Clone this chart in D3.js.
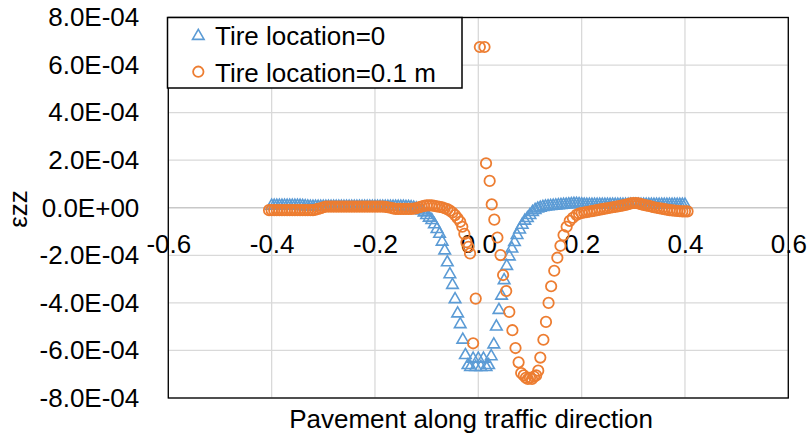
<!DOCTYPE html>
<html>
<head>
<meta charset="utf-8">
<script src="https://cdn.jsdelivr.net/npm/d3@7"></script>
<style>
  html, body { margin: 0; padding: 0; background: #fff; }
  svg { display: block; }
</style>
</head>
<body>
<script>
// ---------- DATA (strain values are in units of 1e-4) ----------
const xTicks = [-0.6, -0.4, -0.2, 0, 0.2, 0.4, 0.6];
const xTickLabels = ["-0.6", "-0.4", "-0.2", "0.0", "0.2", "0.4", "0.6"];
const yTicks = [8e-4, 6e-4, 4e-4, 2e-4, 0, -2e-4, -4e-4, -6e-4, -8e-4];
const yTickLabels = ["8.0E-04", "6.0E-04", "4.0E-04", "2.0E-04", "0.0E+00", "-2.0E-04", "-4.0E-04", "-6.0E-04", "-8.0E-04"];

const seriesNames = ["Tire location=0", "Tire location=0.1 m"];

// Series 1: tire location = 0
const blueX = [
  -0.400,-0.395,-0.390,-0.385,-0.380,-0.375,-0.370,-0.365,-0.360,-0.355,
  -0.350,-0.345,-0.340,-0.335,-0.330,-0.325,-0.320,-0.315,-0.310,-0.305,
  -0.300,-0.295,-0.290,-0.285,-0.280,-0.275,-0.270,-0.265,-0.260,-0.255,
  -0.250,-0.245,-0.240,-0.235,-0.230,-0.225,-0.220,-0.215,-0.210,-0.205,
  -0.200,-0.195,-0.190,-0.185,-0.180,-0.175,-0.170,-0.165,-0.160,-0.155,
  -0.150,-0.145,-0.140,-0.135,-0.130,
  -0.125,-0.120,-0.115,-0.110,-0.105,-0.100,-0.095,-0.090,-0.085,-0.080,
  -0.075,-0.070,-0.065,-0.060,-0.055,-0.050,-0.045,-0.040,-0.035,-0.030,
  -0.025,-0.020,-0.015,-0.010,-0.005,0.000,0.005,0.010,0.015,0.020,
  0.025,0.030,0.035,0.040,0.045,0.050,0.055,0.060,0.065,0.070,
  0.075,0.080,0.085,0.090,0.095,0.100,0.105,0.110,0.115,0.120,0.125,
  0.130,0.135,0.140,0.145,0.150,0.155,0.160,0.165,0.170,0.175,
  0.180,0.185,0.190,0.195,0.200,0.205,0.210,0.215,0.220,0.225,
  0.230,0.235,0.240,0.245,0.250,0.255,0.260,0.265,0.270,0.275,
  0.280,0.285,0.290,0.295,0.300,0.305,0.310,0.315,0.320,0.325,
  0.330,0.335,0.340,0.345,0.350,0.355,0.360,0.365,0.370,0.375,
  0.380,0.385,0.390,0.395,0.400
];
const blueY = [
  0.08,0.08,0.08,0.08,0.08,0.08,0.08,0.08,0.08,0.08,
  0.08,0.08,0.07,0.06,0.05,0.04,0.04,0.04,0.04,0.04,
  0.04,0.04,0.04,0.04,0.04,0.04,0.04,0.04,0.04,0.04,
  0.04,0.04,0.04,0.04,0.04,0.04,0.04,0.04,0.04,0.04,
  0.04,0.04,0.04,0.04,0.04,0.04,0.04,0.04,0.04,0.04,
  0.04,0.04,0.03,0.03,0.02,
  0.00,-0.03,-0.07,-0.12,-0.20,-0.31,-0.42,-0.52,-0.70,-0.90,
  -1.10,-1.43,-1.80,-2.30,-2.80,-3.25,-3.85,-4.45,-4.90,-5.55,
  -6.20,-6.62,-6.70,-6.35,-6.70,-6.35,-6.70,-6.35,-6.70,-6.62,
  -6.25,-5.75,-5.00,-4.30,-3.70,-3.05,-2.45,-2.05,-1.72,-1.45,
  -1.15,-0.92,-0.72,-0.55,-0.44,-0.31,-0.18,-0.10,-0.04,0.00,0.03,
  0.05,0.06,0.07,0.08,0.09,0.10,0.11,0.12,0.13,0.14,
  0.15,0.16,0.16,0.15,0.14,0.13,0.12,0.12,0.12,0.12,
  0.12,0.12,0.12,0.12,0.12,0.12,0.12,0.12,0.12,0.12,
  0.12,0.12,0.12,0.12,0.12,0.12,0.12,0.12,0.12,0.12,
  0.12,0.12,0.12,0.12,0.12,0.12,0.12,0.12,0.12,0.12,
  0.12,0.12,0.12,0.12,0.12
];

// Series 2: tire location = 0.1 m
const orangeX = [
  -0.405,-0.400,-0.395,-0.390,-0.385,-0.380,-0.375,-0.370,-0.365,-0.360,
  -0.355,-0.350,-0.345,-0.340,-0.335,-0.330,-0.325,-0.320,-0.315,-0.310,
  -0.305,-0.300,-0.295,-0.290,-0.285,-0.280,-0.275,-0.270,-0.265,-0.260,
  -0.255,-0.250,-0.245,-0.240,-0.235,-0.230,-0.225,-0.220,-0.215,-0.210,
  -0.205,-0.200,-0.195,-0.190,-0.185,-0.180,-0.175,-0.170,-0.165,-0.160,
  -0.155,-0.150,-0.145,-0.140,-0.135,-0.130,-0.125,-0.120,-0.115,-0.110,
  -0.105,-0.100,-0.095,-0.090,-0.085,-0.080,-0.075,-0.070,-0.065,
  -0.060,-0.055,-0.050,-0.045,-0.040,-0.035,-0.031,-0.027,-0.023,-0.019,
  -0.016,-0.010,-0.005,0.003,0.012,0.015,0.022,0.026,0.031,0.037,
  0.043,0.048,0.054,0.060,0.066,0.072,0.078,0.083,0.088,0.092,
  0.096,0.100,0.104,0.108,0.112,0.116,0.120,0.126,0.131,0.136,
  0.141,0.147,0.153,0.159,0.165,0.171,0.177,0.183,0.190,0.195,
  0.200,0.205,0.210,0.215,0.220,0.225,0.230,0.235,0.240,0.245,
  0.250,0.255,0.260,0.265,0.270,0.275,0.280,0.285,0.290,0.295,
  0.300,0.305,0.310,0.315,0.320,0.325,0.330,0.335,0.340,0.345,
  0.350,0.355,0.360,0.365,0.370,0.375,0.380,0.385,0.390,0.395,
  0.400,0.405
];
const orangeY = [
  -0.10,-0.10,-0.10,-0.10,-0.10,-0.10,-0.10,-0.10,-0.10,-0.10,
  -0.10,-0.10,-0.10,-0.10,-0.10,-0.10,-0.10,-0.10,-0.08,-0.05,
  -0.02,0.02,0.05,0.05,0.05,0.05,0.05,0.05,0.05,0.05,
  0.05,0.05,0.05,0.05,0.05,0.05,0.05,0.05,0.05,0.05,
  0.05,0.05,0.05,0.05,0.05,0.04,0.02,0.00,-0.03,-0.05,
  -0.05,-0.05,-0.05,-0.05,-0.05,-0.05,-0.04,-0.02,0.02,0.05,
  0.08,0.10,0.10,0.10,0.08,0.06,0.04,0.02,-0.02,
  -0.06,-0.12,-0.20,-0.31,-0.44,-0.59,-0.80,-1.10,-1.45,-1.64,
  -1.92,-5.70,-3.82,6.76,6.76,1.87,1.13,0.14,-0.50,-1.25,
  -1.99,-2.83,-3.50,-4.38,-5.15,-5.90,-6.50,-6.95,-7.05,-7.15,
  -7.20,-7.15,-7.20,-7.10,-7.05,-6.85,-6.30,-5.55,-4.80,-4.00,
  -3.30,-2.65,-2.10,-1.60,-1.15,-0.80,-0.55,-0.42,-0.30,-0.25,
  -0.22,-0.20,-0.18,-0.16,-0.14,-0.12,-0.10,-0.08,-0.06,-0.04,
  -0.02,0.00,0.02,0.04,0.06,0.08,0.10,0.12,0.15,0.18,
  0.20,0.20,0.18,0.15,0.12,0.10,0.08,0.05,0.02,0.00,
  -0.02,-0.04,-0.06,-0.08,-0.10,-0.11,-0.12,-0.13,-0.14,-0.15,
  -0.15,-0.15
];
const UNIT = 1e-4;

// ---------- LAYOUT ----------
const W = 811, H = 441;
const plot = { left: 168.3, right: 788.3, top: 17.5, bottom: 398 };
const FONT = "'Liberation Sans', Arial, sans-serif";
const FS = 26;
const BLUE = "#5B9BD5", ORANGE = "#ED7D31";

const svg = d3.select("body").append("svg").attr("width", W).attr("height", H);

const x = d3.scaleLinear().domain([-0.6, 0.6]).range([plot.left, plot.right]);
const y = d3.scaleLinear().domain([-8e-4, 8e-4]).range([plot.bottom, plot.top]);

// gridlines
svg.append("g").selectAll("line").data(yTicks).join("line")
  .attr("x1", plot.left).attr("x2", plot.right)
  .attr("y1", d => y(d)).attr("y2", d => y(d))
  .attr("stroke", d => d === 0 ? "#c8c8c8" : "#d9d9d9")
  .attr("stroke-width", d => d === 0 ? 1.6 : 1.3);
svg.append("g").selectAll("line").data(xTicks).join("line")
  .attr("x1", d => x(d)).attr("x2", d => x(d))
  .attr("y1", plot.top).attr("y2", plot.bottom)
  .attr("stroke", "#d9d9d9").attr("stroke-width", 1.3);

// plot border
svg.append("rect")
  .attr("x", plot.left).attr("y", plot.top)
  .attr("width", plot.right - plot.left).attr("height", plot.bottom - plot.top)
  .attr("fill", "none").attr("stroke", "#000").attr("stroke-width", 1.3);

// axes (labels only)
const gx = svg.append("g")
  .attr("transform", `translate(0,${y(0)})`)
  .call(d3.axisBottom(x).tickValues(xTicks).tickSize(0).tickPadding(27)
    .tickFormat((d, i) => xTickLabels[i]));
gx.select(".domain").remove();
gx.attr("font-size", FS).attr("font-family", FONT);
gx.selectAll("text").attr("fill", "#000");

const gy = svg.append("g")
  .attr("transform", `translate(${plot.left},0)`)
  .call(d3.axisLeft(y).tickValues(yTicks).tickSize(0).tickPadding(29)
    .tickFormat((d, i) => yTickLabels[i]));
gy.select(".domain").remove();
gy.attr("font-size", FS).attr("font-family", FONT);
gy.selectAll("text").attr("fill", "#000");

// axis titles
svg.append("text")
  .attr("x", 471).attr("y", 428)
  .attr("text-anchor", "middle")
  .attr("font-family", FONT).attr("font-size", FS).attr("fill", "#000")
  .text("Pavement along traffic direction");
svg.append("text")
  .attr("transform", `translate(27,209) rotate(-90)`)
  .attr("text-anchor", "middle")
  .attr("font-family", FONT).attr("font-size", FS).attr("fill", "#000")
  .text("εzz");

// data
const tri = d3.symbol().type(d3.symbolTriangle).size(58);
const blueData = blueX.map((v, i) => [v, blueY[i] * UNIT]);
const orangeData = orangeX.map((v, i) => [v, orangeY[i] * UNIT]);

svg.append("g").selectAll("path").data(blueData).join("path")
  .attr("d", tri)
  .attr("transform", d => `translate(${x(d[0])},${y(d[1])})`)
  .attr("fill", "none").attr("stroke", BLUE).attr("stroke-width", 1.6);

svg.append("g").selectAll("circle").data(orangeData).join("circle")
  .attr("cx", d => x(d[0])).attr("cy", d => y(d[1])).attr("r", 5.2)
  .attr("fill", "none").attr("stroke", ORANGE).attr("stroke-width", 1.8);

// legend
const lg = svg.append("g");
lg.append("rect")
  .attr("x", 167.5).attr("y", 17.5).attr("width", 294.5).attr("height", 70.5)
  .attr("fill", "#fff").attr("stroke", "#000").attr("stroke-width", 1.5);
lg.append("path").attr("d", tri)
  .attr("transform", "translate(198.3,36)")
  .attr("fill", "none").attr("stroke", BLUE).attr("stroke-width", 1.6);
lg.append("circle").attr("cx", 198.3).attr("cy", 71.7).attr("r", 5.2)
  .attr("fill", "none").attr("stroke", ORANGE).attr("stroke-width", 1.8);
lg.selectAll("text").data(seriesNames).join("text")
  .attr("x", 215).attr("y", (d, i) => 45 + i * 36.7)
  .attr("font-family", FONT).attr("font-size", FS).attr("fill", "#000")
  .text(d => d);
</script>
</body>
</html>
